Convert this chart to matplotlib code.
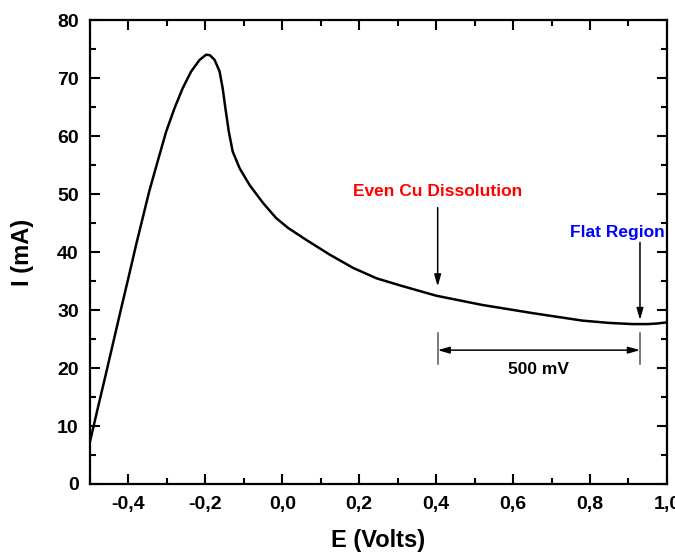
import numpy as np
import matplotlib
matplotlib.use("Agg")
import matplotlib.pyplot as plt
from matplotlib.ticker import MultipleLocator, FuncFormatter

# values
potential = [-0.500, -0.480, -0.460, -0.440, -0.420, -0.400, -0.380, -0.363,
             -0.346, -0.324, -0.302, -0.280, -0.259, -0.237, -0.215, -0.198,
             -0.188, -0.176, -0.163, -0.155, -0.148, -0.139, -0.129, -0.111,
             -0.085, -0.050, -0.016, 0.015, 0.063, 0.123, 0.184, 0.245,
             0.310, 0.400, 0.520, 0.650, 0.780, 0.850, 0.910, 0.950,
             0.975, 1.000]
current = [7.3, 13.0, 18.6, 24.3, 30.0, 35.6, 41.3, 45.9,
           50.5, 55.7, 60.8, 64.9, 68.3, 71.2, 73.2, 74.1,
           74.0, 73.2, 71.2, 68.3, 64.9, 60.8, 57.4, 54.5,
           51.6, 48.5, 45.9, 44.2, 42.1, 39.6, 37.3, 35.5,
           34.2, 32.5, 30.9, 29.5, 28.2, 27.8, 27.6, 27.6,
           27.7, 27.9]

even_cu_E = 0.404
flat_E = 0.930

plt.rcParams['font.family'] = ['Liberation Sans', 'DejaVu Sans']
plt.rcParams['font.weight'] = 'bold'

fig = plt.figure(figsize=(6.75, 5.54), dpi=100)
ax = fig.add_axes([0.1333, 0.1264, 0.8547, 0.8366])

ax.plot(potential, current, color='black', lw=1.8, solid_joinstyle='round')

ax.set_xlim(-0.5, 1.0)
ax.set_ylim(0, 80)
ax.xaxis.set_major_locator(MultipleLocator(0.2))
ax.xaxis.set_minor_locator(MultipleLocator(0.1))
ax.yaxis.set_major_locator(MultipleLocator(10))
ax.yaxis.set_minor_locator(MultipleLocator(5))
ax.xaxis.set_major_formatter(FuncFormatter(lambda v, p: ("%.1f" % v).replace('.', ',')))

ax.tick_params(which='both', direction='in', top=True, right=True, width=1.5,
               labelsize=14)
ax.tick_params(which='major', length=7)
ax.tick_params(which='minor', length=4)
ax.tick_params(axis='x', pad=9)
ax.tick_params(axis='y', pad=8)
for s in ax.spines.values():
    s.set_linewidth(1.6)

ax.set_xlabel('E (Volts)', fontsize=17, fontweight='bold', labelpad=11)
ax.set_ylabel('I (mA)', fontsize=17, fontweight='bold', labelpad=17)

# annotations
ax.text(even_cu_E, 50.5, 'Even Cu Dissolution', color='red', fontsize=12.5,
        ha='center', va='center')
ax.annotate('', xy=(even_cu_E, 34.1), xytext=(even_cu_E, 47.7),
            arrowprops=dict(arrowstyle='-|>,head_length=0.7,head_width=0.2',
                            color='black', lw=1.1, shrinkA=0, shrinkB=0))
ax.text(0.87, 43.4, 'Flat Region', color='blue', fontsize=12.5,
        ha='center', va='center')
ax.annotate('', xy=(flat_E, 28.3), xytext=(flat_E, 41.7),
            arrowprops=dict(arrowstyle='-|>,head_length=0.7,head_width=0.2',
                            color='black', lw=1.1, shrinkA=0, shrinkB=0))

# 500 mV span
for xe in (even_cu_E, flat_E):
    ax.plot([xe, xe], [20.7, 26.0], color='#555555', lw=1.1)
ax.annotate('', xy=(flat_E, 23.1), xytext=(even_cu_E, 23.1),
            arrowprops=dict(arrowstyle='<|-|>,head_length=0.7,head_width=0.2',
                            color='black', lw=1.1, shrinkA=0, shrinkB=0))
ax.text((even_cu_E + flat_E) / 2, 19.7, '500 mV', color='black', fontsize=12.5,
        ha='center', va='center')

fig.savefig('out.png', dpi=100)
